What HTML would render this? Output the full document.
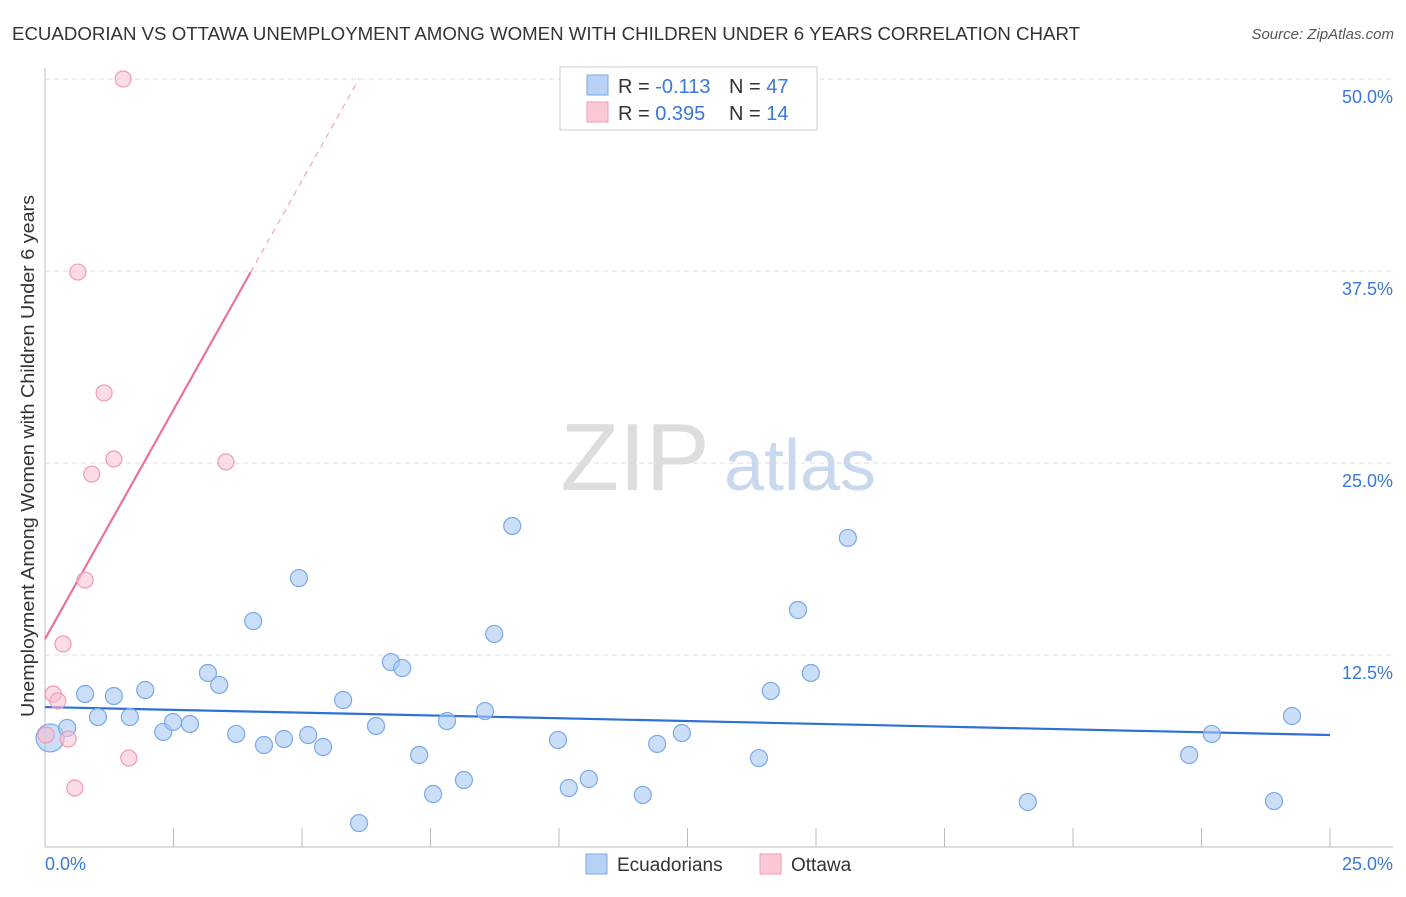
<!DOCTYPE html>
<html><head><meta charset="utf-8"><style>
body{margin:0;background:#fff;font-family:"Liberation Sans",sans-serif;}
svg text{font-family:"Liberation Sans",sans-serif;}
</style></head><body>
<svg id="chart" width="1406" height="892" xmlns="http://www.w3.org/2000/svg">
<text x="12" y="40" font-size="18" fill="#333" textLength="1068" lengthAdjust="spacingAndGlyphs">ECUADORIAN VS OTTAWA UNEMPLOYMENT AMONG WOMEN WITH CHILDREN UNDER 6 YEARS CORRELATION CHART</text>
<text x="1394" y="39" font-size="15" fill="#555" font-style="italic" text-anchor="end">Source: ZipAtlas.com</text>
<text transform="translate(34,456) rotate(-90)" font-size="18" fill="#333" text-anchor="middle" textLength="522" lengthAdjust="spacingAndGlyphs">Unemployment Among Women with Children Under 6 years</text>
<g>
<text x="635" y="490" font-size="96" fill="#ddd" font-family="Liberation Serif,serif" text-anchor="middle">ZIP</text>
<text x="800" y="490" font-size="72" fill="#c8d8ee" text-anchor="middle">atlas</text>
</g>
<g id="grid"></g><g id="axes"></g><g id="trends"></g><g id="points"></g>
<g>
<rect x="560" y="67" width="257" height="63" fill="#fff" stroke="#ccc"/>
<rect x="587" y="75" width="21" height="20" fill="#b8d2f5" stroke="#7aa9e8"/>
<rect x="587" y="102" width="21" height="20" fill="#fbc8d6" stroke="#f09ab4"/>
<text x="618" y="93" font-size="20" fill="#333">R = <tspan fill="#3a78d8">-0.113</tspan></text>
<text x="729" y="93" font-size="20" fill="#333">N = <tspan fill="#3a78d8">47</tspan></text>
<text x="618" y="120" font-size="20" fill="#333">R = <tspan fill="#3a78d8">0.395</tspan></text>
<text x="729" y="120" font-size="20" fill="#333">N = <tspan fill="#3a78d8"> 14</tspan></text>
</g>
<g>
<rect x="586" y="854" width="21" height="20" fill="#b8d2f5" stroke="#7aa9e8"/>
<text x="617" y="871" font-size="19" fill="#333">Ecuadorians</text>
<rect x="760" y="854" width="21" height="20" fill="#fbc8d6" stroke="#f09ab4"/>
<text x="791" y="871" font-size="19" fill="#333">Ottawa</text>
</g>
</svg>
<script>
const blueX=[0.10,0.43,0.78,1.03,1.34,1.65,1.95,2.30,2.49,2.82,3.17,3.39,3.72,4.05,4.26,4.65,4.94,5.12,5.41,5.80,6.11,6.44,6.73,6.95,7.28,7.55,7.82,8.15,8.56,8.74,9.09,9.98,10.19,10.58,11.63,11.91,12.39,13.89,14.12,14.65,14.90,15.62,19.12,22.26,22.70,23.91,24.26];
const blueY=[7.10,7.75,9.96,8.46,9.83,8.46,10.22,7.49,8.14,8.01,11.33,10.55,7.36,14.71,6.64,7.03,17.51,7.29,6.51,9.57,1.56,7.88,12.04,11.65,5.99,3.45,8.20,4.36,8.85,13.87,20.90,6.97,3.84,4.43,3.39,6.71,7.42,5.79,10.16,15.43,11.33,20.12,2.93,5.99,7.36,2.99,8.53];
const pinkX=[1.52,0.64,1.15,0.91,1.34,3.52,0.78,0.35,0.16,0.25,0.45,0.02,1.63,0.58];
const pinkY=[50.0,37.43,29.56,24.28,25.26,25.07,17.38,13.22,9.96,9.51,7.03,7.29,5.79,3.84];
const blueTrend=[9.11,7.29];
const pinkTrend={intercept:13.54,slope:5.97};
const yTicks=[12.5,25,37.5,50];
const ns="http://www.w3.org/2000/svg";
const sx=v=>45+v*51.4, sy=v=>847-v*15.36;
function mk(tag,attrs,parent){const e=document.createElementNS(ns,tag);for(const k in attrs)e.setAttribute(k,attrs[k]);document.getElementById(parent).appendChild(e);return e;}
yTicks.forEach(t=>{
 const l=mk('line',{x1:45,x2:1393,y1:sy(t),y2:sy(t),stroke:'#ddd','stroke-dasharray':'5,4'},'grid');
 
 
 const tx=mk('text',{x:1393,y:sy(t)+24,'font-size':18,fill:'#3a78d8','text-anchor':'end'},'grid');
 tx.textContent=t.toFixed(1)+'%';
 
 
});
let a=mk('line',{x1:45,x2:45,y1:68,y2:847,stroke:'#bbb'},'axes');


a=mk('line',{x1:45,x2:1393,y1:847,y2:847,stroke:'#bbb'},'axes');


for(let i=1;i<=10;i++){const t=mk('line',{x1:sx(i*2.5),x2:sx(i*2.5),y1:828,y2:847,stroke:'#bbb'},'axes');
 
 }
let xl=mk('text',{x:45,y:870,'font-size':18,fill:'#3a78d8'},'axes');xl.textContent='0.0%';


xl=mk('text',{x:1393,y:870,'font-size':18,fill:'#3a78d8','text-anchor':'end'},'axes');xl.textContent='25.0%';


let tl=mk('line',{x1:sx(0),y1:sy(blueTrend[0]),x2:sx(25),y2:sy(blueTrend[1]),stroke:'#2f6fd6','stroke-width':2.2},'trends');


const xs=4.0, xe=(50-pinkTrend.intercept)/pinkTrend.slope;
tl=mk('line',{x1:sx(0),y1:sy(pinkTrend.intercept),x2:sx(xs),y2:sy(pinkTrend.intercept+pinkTrend.slope*xs),stroke:'#e8729a','stroke-width':2.2},'trends');


tl=mk('line',{x1:sx(xs),y1:sy(pinkTrend.intercept+pinkTrend.slope*xs),x2:sx(xe),y2:sy(50),stroke:'#f0a6bf','stroke-width':1.2,'stroke-dasharray':'6,5'},'trends');


blueX.forEach((x,i)=>{const c=mk('circle',{cx:sx(x),cy:sy(blueY[i]),r:i===0?14:8.5,fill:'rgba(168,200,242,0.6)',stroke:'#7aa9e8','stroke-width':1.2},'points');
 
 });
pinkX.forEach((x,i)=>{const c=mk('circle',{cx:sx(x),cy:sy(pinkY[i]),r:8,fill:'rgba(250,192,210,0.55)',stroke:'#f09ab4','stroke-width':1.2},'points');
 
 });
</script>
</body></html>
